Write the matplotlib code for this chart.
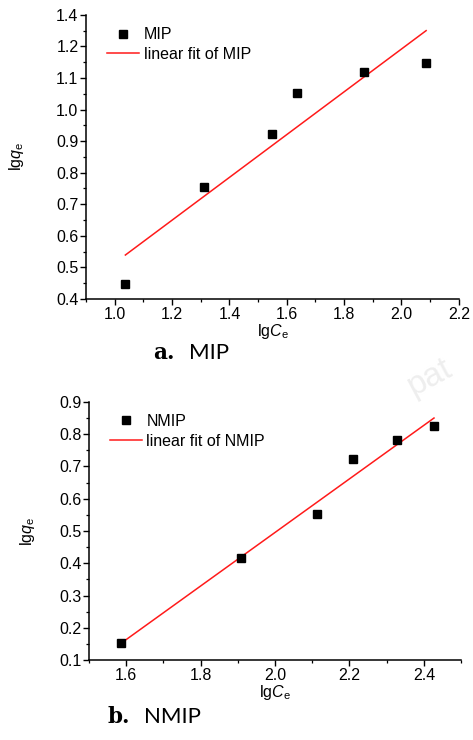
import numpy as np
import matplotlib
matplotlib.use("Agg")
import matplotlib.pyplot as plt
from matplotlib.ticker import MultipleLocator, FixedLocator, FixedFormatter

plt.rcParams['font.family'] = ['Liberation Sans', 'DejaVu Sans']
plt.rcParams['mathtext.fontset'] = 'custom'
plt.rcParams['mathtext.rm'] = 'Liberation Sans'
plt.rcParams['mathtext.it'] = 'Liberation Sans:italic'

# Freundlich isotherm, lg qe vs lg Ce
mip_lgce = [1.037, 1.310, 1.549, 1.637, 1.868, 2.086]
mip_lgqe = [0.447, 0.756, 0.923, 1.053, 1.120, 1.148]

nmip_lgce = [1.586, 1.909, 2.113, 2.210, 2.328, 2.427]
nmip_lgqe = [0.153, 0.416, 0.552, 0.722, 0.781, 0.824]

# y ticks of panel a as printed (top label reads 1.4)
mip_ytick_pos = [0.4, 0.5, 0.6, 0.7, 0.8, 0.9, 1.0, 1.1, 1.2, 1.3]
mip_ytick_lab = ['0.4', '0.5', '0.6', '0.7', '0.8', '0.9', '1.0', '1.1', '1.2', '1.4']


def draw_panel(ax, x, y, name, xlim, ylim):
    x = np.array(x)
    y = np.array(y)
    k, b = np.polyfit(x, y, 1)
    xf = np.linspace(x.min(), x.max(), 50)
    ax.plot(x, y, 's', color='black', markersize=6, label=name, zorder=3)
    ax.plot(xf, k * xf + b, '-', color='#ff1a1a', lw=1.1, label='linear fit of ' + name)
    ax.set_xlim(*xlim)
    ax.set_ylim(*ylim)
    ax.xaxis.set_major_locator(MultipleLocator(0.2))
    ax.xaxis.set_minor_locator(MultipleLocator(0.1))
    ax.yaxis.set_minor_locator(MultipleLocator(0.05))
    for s in ['top', 'right']:
        ax.spines[s].set_visible(False)
    for s in ['left', 'bottom']:
        ax.spines[s].set_linewidth(1.1)
    ax.tick_params(which='major', direction='out', length=4, width=1.0, labelsize=11.5, pad=1.5)
    ax.tick_params(which='minor', direction='out', length=2.5, width=0.9)
    ax.set_xlabel(r'lg$\mathit{C}_\mathrm{e}$', fontsize=11.5, labelpad=0)
    ax.set_ylabel(r'lg$\mathit{q}_\mathrm{e}$', fontsize=11.5)
    ax.legend(loc='upper left', bbox_to_anchor=(0.03, 0.99), frameon=False, fontsize=11.5,
              handlelength=2.0, handletextpad=0.3, labelspacing=0.3, borderaxespad=0.2)
    return ax


fig = plt.figure(figsize=(4.73, 7.40), dpi=100)

ax1 = fig.add_axes([0.182, 0.596, 0.788, 0.384])
draw_panel(ax1, mip_lgce, mip_lgqe, 'MIP', (0.9, 2.2), (0.4, 1.3))
ax1.yaxis.set_major_locator(FixedLocator(mip_ytick_pos))
ax1.yaxis.set_major_formatter(FixedFormatter(mip_ytick_lab))

ax2 = fig.add_axes([0.188, 0.108, 0.787, 0.349])
draw_panel(ax2, nmip_lgce, nmip_lgqe, 'NMIP', (1.5, 2.5), (0.1, 0.9))
ax2.yaxis.set_major_locator(MultipleLocator(0.1))
ax1.yaxis.set_label_coords(-0.16, 0.5)
ax2.yaxis.set_label_coords(-0.14, 0.5)

# panel captions
fig.text(0.37, 0.523, 'a.', fontsize=15.5, fontweight='bold', family='DejaVu Serif', ha='right', va='center')
fig.text(0.400, 0.523, 'MIP', fontsize=16, family='Lato', ha='left', va='center')
fig.text(0.275, 0.031, 'b.', fontsize=15.5, fontweight='bold', family='DejaVu Serif', ha='right', va='center')
fig.text(0.305, 0.031, 'NMIP', fontsize=16, family='Lato', ha='left', va='center')

# faint watermark
fig.text(0.91, 0.49, 'pat', fontsize=24, color='#eeeeee', rotation=28, ha='center', va='center')

fig.savefig('out.png', dpi=100)
